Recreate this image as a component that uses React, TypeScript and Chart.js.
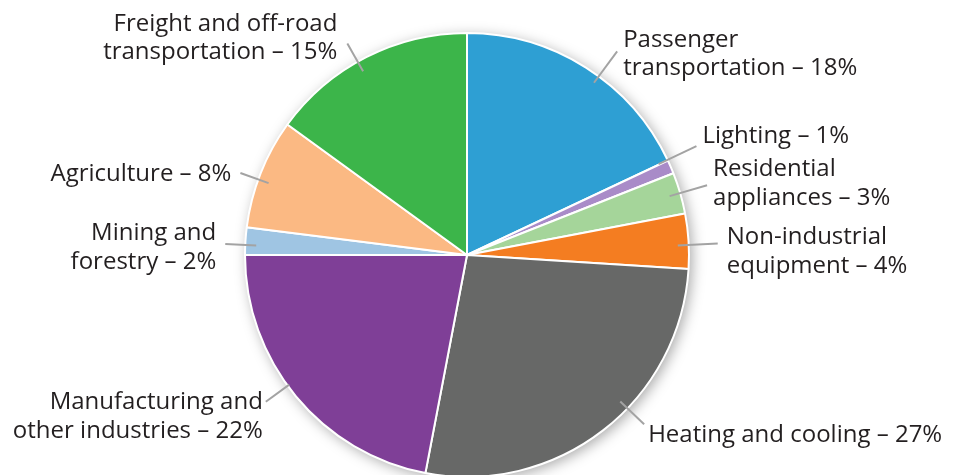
import React, { useEffect, useRef } from "react";
import { Chart, registerables } from "chart.js";

Chart.register(...registerables);

const categories: string[][] = [
  ["Passenger", "transportation – 18%"],
  ["Lighting – 1%"],
  ["Residential", "appliances – 3%"],
  ["Non-industrial", "equipment – 4%"],
  ["Heating and cooling – 27%"],
  ["Manufacturing and", "other industries – 22%"],
  ["Mining and", "forestry – 2%"],
  ["Agriculture – 8%"],
  ["Freight and off-road", "transportation – 15%"],
];
const values: number[] = [18, 1, 3, 4, 27, 22, 2, 8, 15];
const colors: string[] = [
  "#2e9fd3",
  "#a98bc8",
  "#a5d59a",
  "#f47d21",
  "#676867",
  "#7f3f97",
  "#9fc5e3",
  "#fbb983",
  "#3cb54a",
];

// layout tweaks for leader lines / labels (degrees, px)
const angleNudge: number[] = [4, -2, 0, 1, -8.5, 3.5, -1, -1.7, -2.5];
const leaderInset: number[] = [8, 10, 11, 11, 10, 2, 11, 11, 11];
const leaderOut: number[] = [31, 32, 28, 29, 23, 27, 20, 19, 21];
const labelDx: number[] = [6, 6, 6, 9, 4, -3, -9, -9, -10];
const labelDy: number[] = [1, -12, -3.5, 6.5, 9, 13, 2, -1, -7];

const FONT_PX = 24;
const FONT = `${FONT_PX}px "Open Sans", "Noto Sans", sans-serif`;
const LINE_H = 28.5;
const CAP_HALF = FONT_PX * 0.714 * 0.5;

const labelPlugin = {
  id: "leaderLabels",
  beforeDatasetsDraw(chart: any) {
    const meta = chart.getDatasetMeta(0);
    const arc = meta.data[0];
    if (!arc) return;
    const { x, y, outerRadius } = arc.getProps(["x", "y", "outerRadius"], true);
    const ctx = chart.ctx;
    ctx.save();
    ctx.shadowColor = "rgba(0,0,0,0.35)";
    ctx.shadowBlur = 14;
    ctx.shadowOffsetX = 3;
    ctx.shadowOffsetY = 3;
    ctx.fillStyle = "#ffffff";
    ctx.beginPath();
    ctx.arc(x, y, outerRadius, 0, Math.PI * 2);
    ctx.fill();
    ctx.restore();
  },
  afterDatasetsDraw(chart: any) {
    const ctx = chart.ctx;
    const meta = chart.getDatasetMeta(0);
    meta.data.forEach((el: any, i: number) => {
      const { x, y, startAngle, endAngle, outerRadius } = el.getProps(
        ["x", "y", "startAngle", "endAngle", "outerRadius"],
        true
      );
      const mid = (startAngle + endAngle) / 2 + (angleNudge[i] * Math.PI) / 180;
      const cos = Math.cos(mid);
      const sin = Math.sin(mid);
      const r1 = outerRadius - leaderInset[i];
      const r2 = outerRadius + leaderOut[i];
      const x1 = x + cos * r1;
      const y1 = y + sin * r1;
      const x2 = x + cos * r2;
      const y2 = y + sin * r2;
      ctx.save();
      ctx.strokeStyle = "#a3a3a3";
      ctx.lineWidth = 2;
      ctx.beginPath();
      ctx.moveTo(x1, y1);
      ctx.lineTo(x2, y2);
      ctx.stroke();
      const right = cos >= 0;
      const lines = categories[i];
      ctx.font = FONT;
      ctx.fillStyle = "#231f20";
      ctx.textAlign = right ? "left" : "right";
      ctx.textBaseline = "alphabetic";
      const tx = x2 + labelDx[i];
      const cy = y2 + labelDy[i];
      const top = cy - ((lines.length - 1) * LINE_H) / 2;
      lines.forEach((ln, k) => ctx.fillText(ln, tx, top + k * LINE_H + CAP_HALF));
      ctx.restore();
    });
  },
};

export default function App() {
  const ref = useRef<HTMLCanvasElement>(null);
  useEffect(() => {
    document.body.style.margin = "0";
    document.body.style.overflow = "hidden";
    const chart = new Chart(ref.current!, {
      type: "pie",
      data: {
        labels: categories.map((c) => c.join(" ")),
        datasets: [
          {
            data: values,
            backgroundColor: colors,
            borderColor: "#ffffff",
            borderWidth: 2,
            radius: 222,
            clip: false,
          } as any,
        ],
      },
      options: {
        animation: false,
        responsive: false,
        layout: { padding: { top: 35, right: 29, left: 0, bottom: 0 } },
        plugins: { legend: { display: false }, tooltip: { enabled: false } },
      },
      plugins: [labelPlugin],
    });
    return () => chart.destroy();
  }, []);
  return (
    <div style={{ width: 963, height: 475, background: "#fff" }}>
      <canvas ref={ref} width={963} height={475} style={{ display: "block" }} />
    </div>
  );
}
